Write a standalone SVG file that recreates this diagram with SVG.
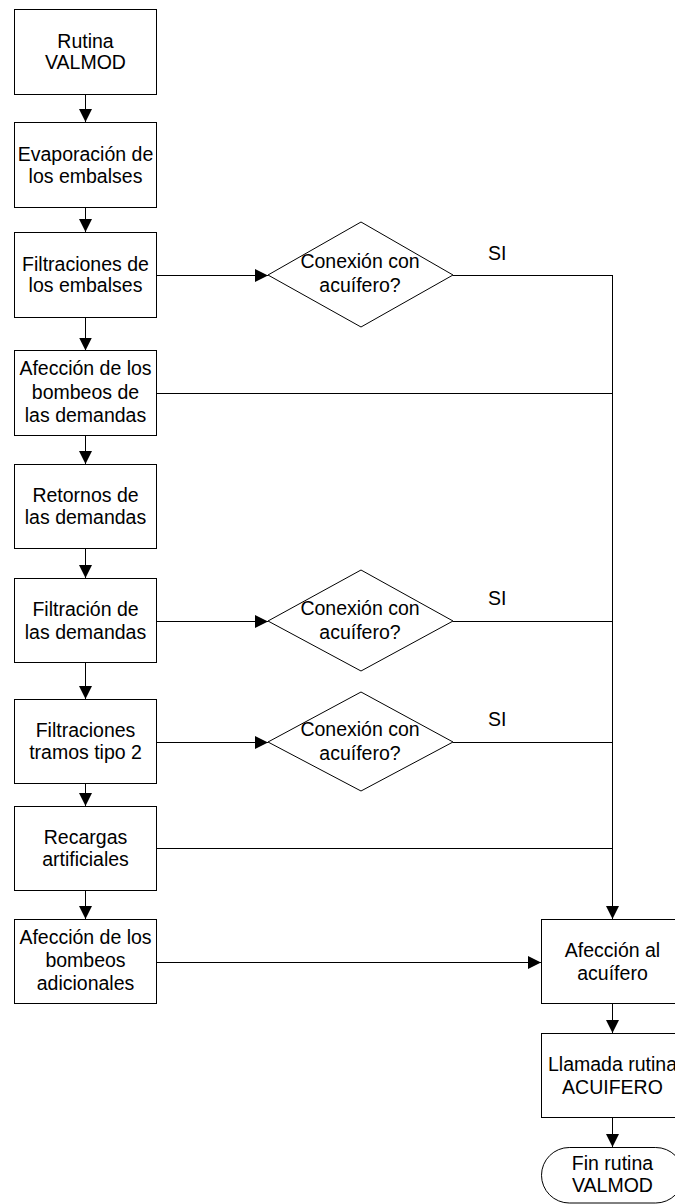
<svg xmlns="http://www.w3.org/2000/svg" width="675" height="1204" viewBox="0 0 675 1204">
<style>
.box{fill:#fff;stroke:#000;stroke-width:1}
.dia{fill:#fff;stroke:#000;stroke-width:1}
.t{font-family:"Liberation Sans",Arial,sans-serif;font-size:19.5px;fill:#000;text-anchor:middle}
.lbl{font-family:"Liberation Sans",Arial,sans-serif;font-size:19.5px;fill:#000}
.c{fill:none;stroke:#000;stroke-width:1}
.ca{fill:none;stroke:#000;stroke-width:1;marker-end:url(#ah)}
</style>
<defs>
<marker id="ah" markerUnits="userSpaceOnUse" markerWidth="14" markerHeight="14" refX="13" refY="6.5" orient="auto">
<path d="M0,0 L13,6.5 L0,13 z" fill="#000"/>
</marker>
</defs>
<rect width="675" height="1204" fill="#fff"/>
<g id="connectors">
<line class="ca" x1="85.5" y1="94" x2="85.5" y2="122"/>
<line class="ca" x1="85.5" y1="207" x2="85.5" y2="232"/>
<line class="ca" x1="85.5" y1="317" x2="85.5" y2="350.5"/>
<line class="ca" x1="85.5" y1="435.5" x2="85.5" y2="464"/>
<line class="ca" x1="85.5" y1="549" x2="85.5" y2="578"/>
<line class="ca" x1="85.5" y1="663" x2="85.5" y2="699"/>
<line class="ca" x1="85.5" y1="783" x2="85.5" y2="806"/>
<line class="ca" x1="85.5" y1="890" x2="85.5" y2="919"/>
<line class="ca" x1="157" y1="275.5" x2="268" y2="275.5"/>
<line class="ca" x1="157" y1="621.5" x2="268" y2="621.5"/>
<line class="ca" x1="157" y1="742.5" x2="268" y2="742.5"/>
<line class="c" x1="453" y1="275.5" x2="612.5" y2="275.5"/>
<line class="c" x1="453" y1="621.5" x2="612.5" y2="621.5"/>
<line class="c" x1="453" y1="742.5" x2="612.5" y2="742.5"/>
<line class="c" x1="157" y1="393.5" x2="612.5" y2="393.5"/>
<line class="c" x1="157" y1="848.5" x2="612.5" y2="848.5"/>
<line class="ca" x1="612.5" y1="275" x2="612.5" y2="919"/>
<line class="ca" x1="157" y1="962.5" x2="541" y2="962.5"/>
<line class="ca" x1="612.5" y1="1004" x2="612.5" y2="1033"/>
<line class="ca" x1="612.5" y1="1118" x2="612.5" y2="1147"/>
</g>
<g id="n1"><rect class="box" x="14.5" y="9.5" width="142" height="85"/><text class="t" x="85.5" y="48">Rutina</text><text class="t" x="85.5" y="69">VALMOD</text></g>
<g id="n2"><rect class="box" x="14.5" y="122.5" width="142" height="85"/><text class="t" x="85.5" y="161">Evaporación de</text><text class="t" x="85.5" y="183">los embalses</text></g>
<g id="n3"><rect class="box" x="14.5" y="232.5" width="142" height="85"/><text class="t" x="85.5" y="270.5">Filtraciones de</text><text class="t" x="85.5" y="292">los embalses</text></g>
<g id="n4"><rect class="box" x="14.5" y="350.5" width="142" height="85"/><text class="t" x="85.5" y="375">Afección de los</text><text class="t" x="85.5" y="398.5">bombeos de</text><text class="t" x="85.5" y="422">las demandas</text></g>
<g id="n5"><rect class="box" x="14.5" y="464.5" width="142" height="84"/><text class="t" x="85.5" y="501.5">Retornos de</text><text class="t" x="85.5" y="524">las demandas</text></g>
<g id="n6"><rect class="box" x="14.5" y="578.5" width="142" height="84"/><text class="t" x="85.5" y="616">Filtración de</text><text class="t" x="85.5" y="638.5">las demandas</text></g>
<g id="n7"><rect class="box" x="14.5" y="699.5" width="142" height="84"/><text class="t" x="85.5" y="736.5">Filtraciones</text><text class="t" x="85.5" y="759">tramos tipo 2</text></g>
<g id="n8"><rect class="box" x="14.5" y="806.5" width="142" height="84"/><text class="t" x="85.5" y="843.5">Recargas</text><text class="t" x="85.5" y="866">artificiales</text></g>
<g id="n9"><rect class="box" x="14.5" y="919.5" width="142" height="84"/><text class="t" x="85.5" y="943.5">Afección de los</text><text class="t" x="85.5" y="967">bombeos</text><text class="t" x="85.5" y="990">adicionales</text></g>
<g id="d1"><polygon class="dia" points="361,222 453,275 361,327 268,275"/><text class="t" x="360" y="268">Conexión con</text><text class="t" x="360" y="292">acuífero?</text></g>
<g id="d2"><polygon class="dia" points="361,570 453,621 361,671 268,621"/><text class="t" x="360" y="615">Conexión con</text><text class="t" x="360" y="638.5">acuífero?</text></g>
<g id="d3"><polygon class="dia" points="361,692 453,742 361,791 268,742"/><text class="t" x="360" y="736">Conexión con</text><text class="t" x="360" y="759.5">acuífero?</text></g>
<g id="labels"><text class="lbl" x="488" y="260">SI</text><text class="lbl" x="488" y="605">SI</text><text class="lbl" x="488" y="726">SI</text></g>
<g id="n10"><rect class="box" x="541.5" y="919.5" width="143" height="84"/><text class="t" x="612.5" y="957">Afección al</text><text class="t" x="612.5" y="979.5">acuífero</text></g>
<g id="n11"><rect class="box" x="541.5" y="1033.5" width="143" height="84"/><text class="t" x="612.5" y="1071">Llamada rutina</text><text class="t" x="612.5" y="1093.5">ACUIFERO</text></g>
<g id="n12"><rect class="box" x="541.5" y="1147.5" width="142" height="55.5" rx="27.75" ry="27.75"/><text class="t" x="612.5" y="1170">Fin rutina</text><text class="t" x="612.5" y="1192">VALMOD</text></g>
</svg>
